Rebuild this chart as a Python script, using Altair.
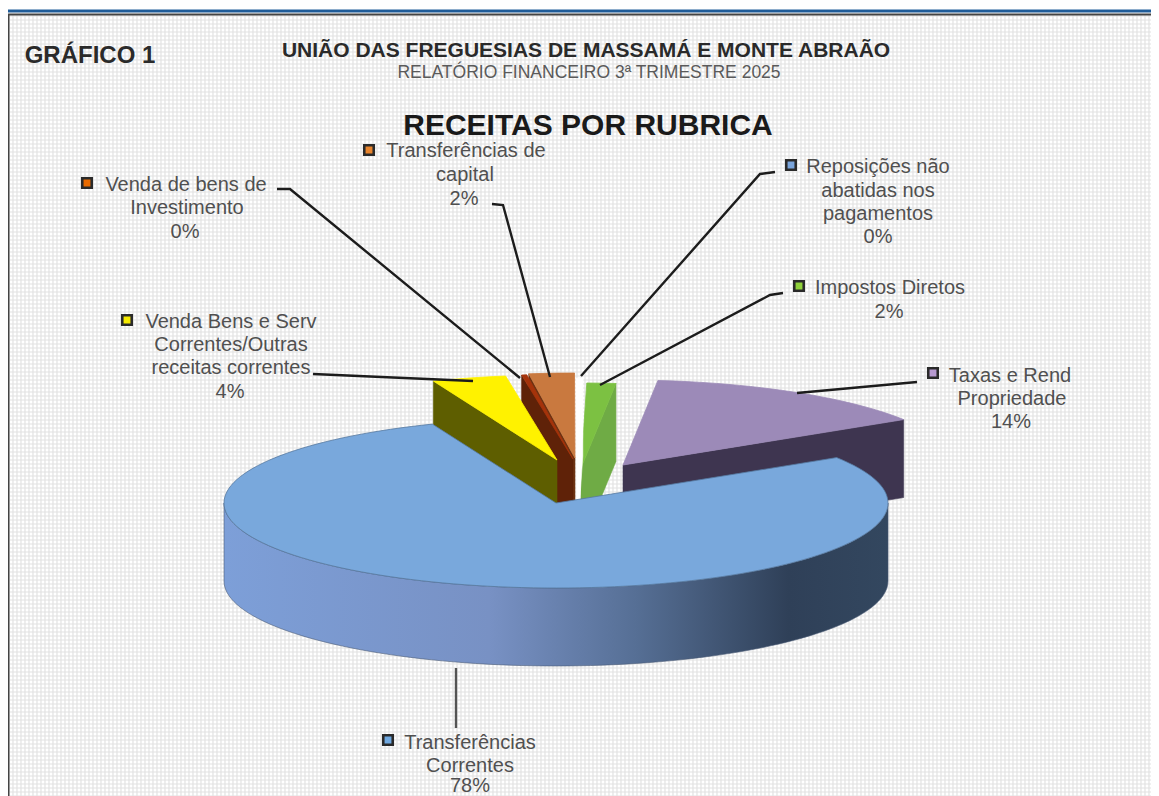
import math
import altair as alt

# ---- data -----------------------------------------------------------------
RUBRICAS = ["Transferências Correntes", "Venda Bens e Serv Correntes/Outras receitas correntes",
            "Venda de bens de Investimento", "Transferências de capital",
            "Reposições não abatidas nos pagamentos", "Impostos Diretos", "Taxas e Rend Propriedade"]
SHARES = [77.9, 3.6, 0.25, 2.2, 0.3, 1.4, 14.35]

# ---- layout / style --------------------------------------------------------
W, H = 1143, 788
RX, RY, DEPTH = 332, 85, 78
START_ANGLE = 57.7
APEX = [(556, 503), (557, 460), (573, 459), (575, 458), (577, 463), (581, 468), (623, 465)]
TOP = ["#79a8dc", "#fff200", "#a5330a", "#c9793f", "#ffffff", "#7cc142", "#9c8ab8"]
WALL = ["#5a7aa0", "#5e5e00", "#5f2208", "#6d3212", "#ffffff", "#6fab45", "#3e3550"]
DRAW_ORDER = [6, 5, 4, 3, 2, 1, 0]

xs = alt.Scale(domain=[8, 1151], range=[0, W])
ys = alt.Scale(domain=[796, 8], range=[H, 0])


def enc_xy():
    return dict(x=alt.X("x:Q", scale=xs, axis=None), y=alt.Y("y:Q", scale=ys, axis=None))


def poly(pts, fill, stroke=None, sw=0.6):
    vals = [{"x": p[0], "y": p[1], "i": k} for k, p in enumerate(pts + pts[:1])]
    return alt.Chart(alt.Data(values=vals)).mark_line(
        fill=fill, stroke=stroke if stroke else (fill if isinstance(fill, str) else "#4a5a75"),
        strokeWidth=sw, clip=False).encode(order="i:Q", **enc_xy())


def rim(ax, ay, t, dz=0):
    r = math.radians(t)
    return (ax + RX * math.sin(r), ay - RY * math.cos(r) + dz)


def arc(ax, ay, t1, t2, dz=0):
    n = max(2, int(abs(t2 - t1) / 2) + 1)
    return [rim(ax, ay, t1 + (t2 - t1) * k / (n - 1), dz) for k in range(n)]


layers = []

# textured background
BG_V = list(range(9, 1152, 4))
BG_H = list(range(16, 797, 4))
layers.append(alt.Chart(alt.Data(values=[{"x": v} for v in BG_V])).mark_rule(
    color="#e2e2e2", strokeWidth=1.2).encode(x=alt.X("x:Q", scale=xs, axis=None),
                                             y=alt.value(7), y2=alt.value(H)))
layers.append(alt.Chart(alt.Data(values=[{"y": v} for v in BG_H])).mark_rule(
    color="#e2e2e2", strokeWidth=1.2).encode(y=alt.Y("y:Q", scale=ys, axis=None),
                                             x=alt.value(2), x2=alt.value(W)))

# frame and top band
for pts, col, sw in [([(8, 11), (1151, 11)], "#1f5c99", 3),
                     ([(8, 14.5), (1151, 14.5)], "#444444", 2),
                     ([(8.5, 14), (8.5, 796)], "#444444", 2)]:
    vals = [{"x": p[0], "y": p[1], "i": k} for k, p in enumerate(pts)]
    layers.append(alt.Chart(alt.Data(values=vals)).mark_line(color=col, strokeWidth=sw).encode(
        order="i:Q", **enc_xy()))

# pie slices
angles = []
t = START_ANGLE
for s in SHARES:
    angles.append((t, t + s * 3.6))
    t += s * 3.6

BLUE_WALL = alt.Gradient(gradient="linear", x1=0, x2=1, y1=0, y2=0, stops=[
    alt.GradientStop(color="#7d9fd8", offset=0), alt.GradientStop(color="#7891c4", offset=0.4),
    alt.GradientStop(color="#566f95", offset=0.62), alt.GradientStop(color="#2f4058", offset=0.85),
    alt.GradientStop(color="#33475f", offset=1)])

for idx in DRAW_ORDER:
    ax, ay = APEX[idx]
    t1, t2 = angles[idx]
    apex = (ax, ay)
    apex_d = (ax, ay + DEPTH)
    for th, visible in ((t1, 180 < (t1 % 360) < 360), (t2, 0 < (t2 % 360) < 180)):
        if visible and idx != 0:
            p, q = rim(ax, ay, th), rim(ax, ay, th, DEPTH)
            layers.append(poly([apex, p, q, apex_d], WALL[idx]))
    lo, hi = max(t1, 90), min(t2, 270)
    if hi > lo:
        fill = BLUE_WALL if idx == 0 else WALL[idx]
        layers.append(poly(arc(ax, ay, lo, hi) + arc(ax, ay, hi, lo, DEPTH), fill))
    edge = {0: "#55789f"}.get(idx, TOP[idx])
    layers.append(poly([apex] + arc(ax, ay, t1, t2), TOP[idx], stroke=edge, sw=0.8))

# leader lines
LEADERS = [[(456, 668), (456, 728)],
           [(313, 374), (473, 381)],
           [(277, 189), (290, 189), (520, 378)],
           [(492, 204), (503, 205), (550, 377)],
           [(775, 172), (760, 174), (581, 376)],
           [(783, 293), (770, 295), (600, 385)],
           [(917, 382), (797, 393)]]
for k, ld in enumerate(LEADERS):
    vals = [{"x": p[0], "y": p[1], "i": j} for j, p in enumerate(ld)]
    layers.append(alt.Chart(alt.Data(values=vals)).mark_line(
        color="#555555" if k == 0 else "#1c1c1c", strokeWidth=2.4).encode(order="i:Q", **enc_xy()))

# legend keys
KEY_X = [388, 127, 87, 369, 791, 799, 933]
KEY_Y = [740, 320, 183, 150, 165, 286, 373]
KEY_COL = ["#6fa8e0", "#f5ea00", "#e86a00", "#e8842c", "#7aa5dc", "#8fd13a", "#b79ad0"]
layers.append(alt.Chart(alt.Data(values=[{"x": a, "y": b, "c": c} for a, b, c in zip(KEY_X, KEY_Y, KEY_COL)]))
              .mark_square(size=90, strokeWidth=2.6, stroke="#2a2a2a", opacity=1)
              .encode(fill=alt.Fill("c:N", scale=None), **enc_xy()))

# label text
LABELS = [
    ("Transferências", 470, 743), ("Correntes", 470, 766), ("78%", 470, 786),
    ("Venda Bens e Serv", 231, 322), ("Correntes/Outras", 231, 345), ("receitas correntes", 231, 368), ("4%", 230, 392),
    ("Venda de bens de", 186, 185), ("Investimento", 187, 208), ("0%", 185, 232),
    ("Transferências de", 466, 151), ("capital", 465, 175), ("2%", 464, 199),
    ("Reposições não", 878, 167), ("abatidas nos", 878, 191), ("pagamentos", 878, 214), ("0%", 878, 237),
    ("Impostos Diretos", 890, 288), ("2%", 889, 312),
    ("Taxas e Rend", 1010, 376), ("Propriedade", 1012, 399), ("14%", 1011, 422),
]
layers.append(alt.Chart(alt.Data(values=[{"x": a, "y": b, "t": s} for s, a, b in LABELS])).mark_text(
    font="Liberation Sans", fontSize=20, color="#505050", align="center", baseline="middle"
).encode(text="t:N", **enc_xy()))

TITLES = [("GRÁFICO 1", 90, 56, 24, "bold", "#2a2a2a"),
          ("UNIÃO DAS FREGUESIAS DE MASSAMÁ  E MONTE ABRAÃO", 586, 51, 21, "bold", "#2a2a2a"),
          ("RELATÓRIO FINANCEIRO 3ª TRIMESTRE 2025", 589, 73, 17.5, "normal", "#5a5a5a"),
          ("RECEITAS POR RUBRICA", 588, 126, 30, "bold", "#1a1a1a")]
for s, a, b, fs, fw, col in TITLES:
    layers.append(alt.Chart(alt.Data(values=[{"x": a, "y": b, "t": s}])).mark_text(
        font="Liberation Sans", fontSize=fs, fontWeight=fw, color=col, align="center", baseline="middle"
    ).encode(text="t:N", **enc_xy()))

chart = alt.layer(*layers).properties(
    width=W, height=H, padding=0, background="#ffffff",
    autosize=alt.AutoSizeParams(type="none")
).configure_view(stroke=None)

chart.save("out.html", embed_options={"renderer": "svg", "actions": False})
